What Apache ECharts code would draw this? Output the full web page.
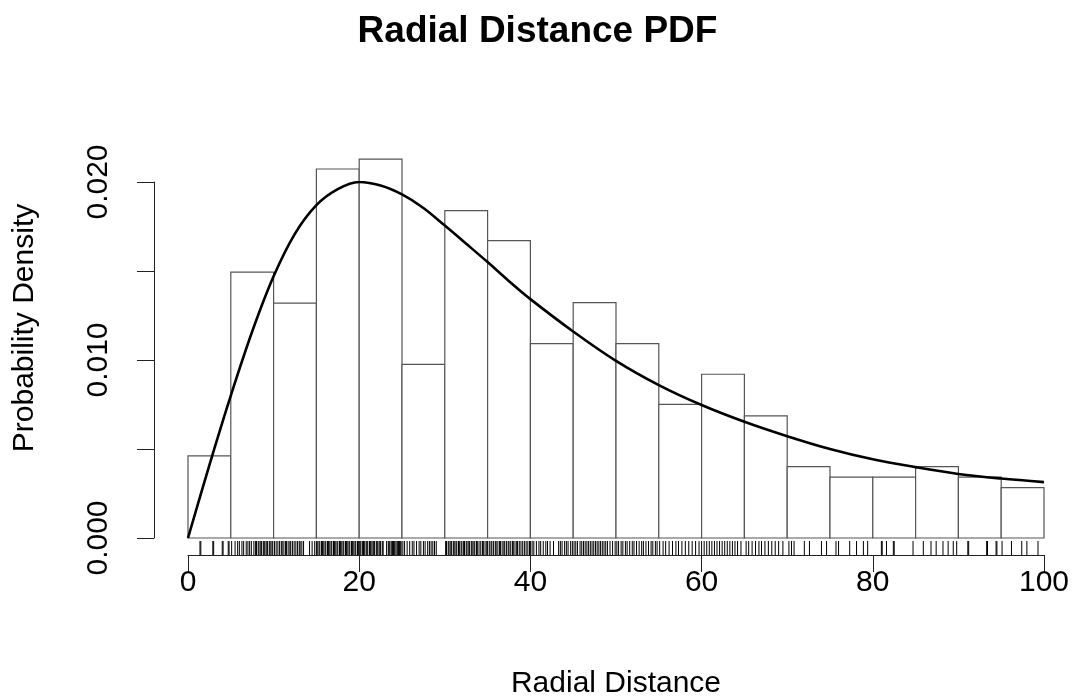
<!DOCTYPE html>
<html>
<head>
<meta charset="utf-8">
<script src="https://cdn.jsdelivr.net/npm/echarts@6/dist/echarts.min.js"></script>
<style>
html,body{margin:0;padding:0;background:#fff;}
#chart{width:1075px;height:700px;}
</style>
</head>
<body>
<div id="chart"></div>
<script>
// ---- data ----
const titleText = 'Radial Distance PDF';
const xTitle = 'Radial Distance';
const yTitle = 'Probability Density';

const binEdges = [0,5,10,15,20,25,30,35,40,45,50,55,60,65,70,75,80,85,90,95,100];
const density = [0.00461,0.01494,0.01320,0.02073,0.02129,0.00975,0.01839,0.01671,0.01092,0.01322,
                 0.01092,0.00751,0.00920,0.00686,0.00401,0.00342,0.00342,0.00401,0.00342,0.00283];

const curveX = [0,2.5,5,7.5,10,12.5,15,17.5,20,22.5,25,27.5,30,32.5,35,37.5,40,45,50,55,60,65,70,75,80,85,90,95,100];
const curveY = [0,0.0041,0.0080,0.0116,0.0147,0.0171,0.0187,0.0196,0.0200,0.0198,0.0193,0.01854,0.01755,0.01653,
                0.0155,0.01443,0.01342,0.01160,0.00995,0.00859,0.00747,0.00653,0.00572,0.00500,0.00442,
                0.00398,0.0036,0.00334,0.00314];

const rugValues = [
 1.4,1.5,2.9,3.0,4.0,4.1,4.7,4.8,
 5.1,5.5,5.8,6.0,6.3,6.5,6.8,7.0,7.2,7.4,7.7,7.9,8.0,8.2,8.3,8.5,8.6,8.8,8.9,9.0,9.2,9.3,9.5,9.6,9.8,9.9,
 10.1,10.3,10.5,10.7,10.9,11.0,11.2,11.4,11.5,11.7,11.9,12.0,12.2,12.4,12.6,12.8,13.0,13.1,13.3,13.5,14.2,14.5,14.8,
 15.0,15.1,15.3,15.4,15.6,15.7,15.8,16.0,16.1,16.3,16.4,16.5,16.7,16.8,17.0,17.1,17.2,17.4,17.5,17.7,17.8,17.9,18.1,18.2,18.4,18.5,18.6,18.8,18.9,19.1,19.2,19.3,19.5,19.6,19.8,19.9,
 20.0,20.1,20.2,20.4,20.5,20.6,20.8,20.9,21.0,21.2,21.3,21.4,21.6,21.7,21.8,22.0,22.1,22.2,22.4,22.5,22.7,22.8,23.2,23.4,23.5,23.6,23.8,23.9,24.0,24.1,24.2,24.4,24.5,24.6,24.7,24.8,24.9,
 25.1,25.3,25.6,25.9,26.2,26.4,26.7,27.0,27.2,27.5,27.7,28.0,28.2,28.4,28.6,28.8,29.0,
 30.1,30.2,30.4,30.5,30.7,30.8,31.0,31.1,31.3,31.4,31.6,31.7,31.9,32.0,32.2,32.3,32.5,32.6,32.8,32.9,33.1,33.2,33.4,33.5,33.7,33.8,34.0,34.2,34.4,34.5,34.7,34.9,
 35.0,35.2,35.4,35.5,35.7,35.9,36.0,36.2,36.4,36.5,36.7,36.9,37.0,37.2,37.4,37.5,37.7,37.9,38.0,38.2,38.4,38.5,38.7,38.9,39.1,39.3,39.5,39.7,39.9,
 40.0,40.2,40.4,40.7,41.0,41.2,41.5,41.8,42.0,42.3,42.7,43.3,43.5,43.7,44.0,44.2,44.4,44.7,44.9,
 45.1,45.3,45.5,45.8,46.0,46.2,46.4,46.6,46.8,47.0,47.2,47.4,47.6,47.8,48.0,48.2,48.4,48.6,48.8,49.0,49.3,49.6,49.9,
 50.1,50.3,50.6,50.8,51.1,51.3,51.6,51.9,52.1,52.4,52.7,53.0,53.2,53.5,53.8,54.1,54.3,54.6,54.8,
 55.1,55.5,55.8,56.2,56.6,57.0,57.3,57.7,58.1,58.5,58.9,59.3,59.7,
 60.0,60.3,60.6,60.9,61.2,61.5,61.8,62.1,62.4,62.7,63.0,63.3,63.6,63.9,64.2,64.6,
 65.2,65.5,65.9,66.3,66.7,67.0,67.4,67.8,68.2,68.6,69.0,69.5,
 70.2,70.5,70.8,72.0,72.6,74.0,74.6,
 75.7,76.0,77.3,78.1,78.9,79.4,
 81.0,81.1,81.6,82.4,82.5,84.7,
 85.9,86.8,87.4,88.2,88.8,89.4,89.8,
 91.1,91.2,93.3,93.4,94.4,94.5,
 95.1,96.2,97.4,98.0,99.3
];

// ---- build options ----
const FONT = '"Liberation Sans", Arial, Helvetica, sans-serif';
const histData = density.map((d, i) => [binEdges[i], binEdges[i + 1], d]);
const curveData = curveX.map((x, i) => [x, curveY[i]]);
const rugData = rugValues.map(v => [v]);

const chart = echarts.init(document.getElementById('chart'), null, {renderer: 'canvas'});
chart.setOption({
  animation: false,
  backgroundColor: '#ffffff',
  title: {
    text: titleText,
    left: 'center',
    top: 8,
    textStyle: {fontFamily: FONT, fontWeight: 'bold', fontSize: 37, color: '#000'}
  },
  grid: {left: 188, right: 31, top: 182, bottom: 162, outerBoundsMode: 'none', containLabel: false},
  xAxis: {
    type: 'value', min: 0, max: 100, interval: 20,
    offset: 17,
    name: xTitle, nameLocation: 'middle', nameGap: 114,
    nameTextStyle: {fontFamily: FONT, fontSize: 30, color: '#000'},
    axisLine: {show: true, onZero: false, lineStyle: {color: '#222', width: 1}},
    axisTick: {show: true, length: 17, lineStyle: {color: '#222', width: 1}},
    axisLabel: {fontFamily: FONT, fontSize: 30, color: '#000', margin: 13},
    splitLine: {show: false}
  },
  yAxis: {
    type: 'value', min: 0, max: 0.02, interval: 0.005,
    offset: 34,
    axisLine: {show: true, onZero: false, lineStyle: {color: '#222', width: 1}},
    axisTick: {show: true, length: 17, lineStyle: {color: '#222', width: 1}},
    axisLabel: {
      fontFamily: FONT, fontSize: 30, color: '#000', rotate: 90, margin: 40,
      formatter: v => (Math.round(v * 1000) % 10 === 0 ? v.toFixed(3) : '')
    },
    splitLine: {show: false}
  },
  graphic: [{
    type: 'text', x: 25, y: 328,
    rotation: Math.PI / 2,
    style: {text: yTitle, font: '30px ' + FONT, fill: '#000', align: 'center', verticalAlign: 'middle'}
  }],
  series: [
    {
      type: 'custom', name: 'hist', clip: false, z: 1,
      data: histData,
      renderItem: (params, api) => {
        const p0 = api.coord([api.value(0), api.value(2)]);
        const p1 = api.coord([api.value(1), 0]);
        return {
          type: 'rect',
          shape: {x: p0[0], y: p0[1], width: p1[0] - p0[0], height: p1[1] - p0[1]},
          style: {fill: '#fff', stroke: '#555', lineWidth: 1.2}
        };
      }
    },
    {
      type: 'line', name: 'pdf', data: curveData, smooth: 0.35, showSymbol: false, z: 3,
      lineStyle: {color: '#000', width: 2.6}
    },
    {
      type: 'custom', name: 'rug', clip: false, z: 2,
      data: rugData,
      renderItem: (params, api) => {
        const p = api.coord([api.value(0), 0]);
        return {
          type: 'line',
          shape: {x1: p[0], y1: p[1] + 3, x2: p[0], y2: p[1] + 17},
          style: {stroke: '#000', lineWidth: 1}
        };
      }
    }
  ]
});
</script>
</body>
</html>
